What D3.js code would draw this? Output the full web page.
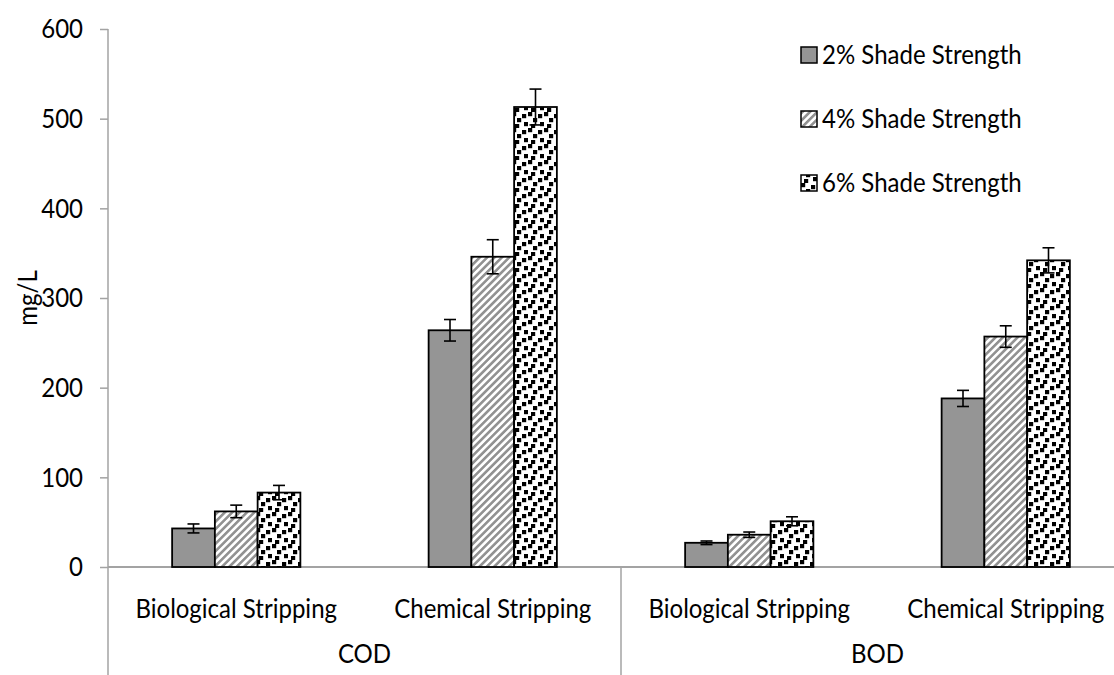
<!DOCTYPE html>
<html>
<head>
<meta charset="utf-8">
<script src="https://cdn.jsdelivr.net/npm/d3@7/dist/d3.min.js"></script>
<style>
  html, body { margin: 0; padding: 0; background: #fff; }
  svg { display: block; }
  text { font-family: Lato, "Open Sans", sans-serif; fill: #000; }
</style>
</head>
<body>
<svg id="chart" width="1114" height="675"></svg>
<script>
// Parameters and the stripping methods measured for each
const groups = ["COD", "BOD"];
const methods = ["Biological Stripping", "Chemical Stripping"];
const seriesNames = ["2% Shade Strength", "4% Shade Strength", "6% Shade Strength"];

// Values in mg/L, ordered COD-Bio, COD-Chem, BOD-Bio, BOD-Chem
const shade2 = [43, 264, 27, 188];
const shade4 = [62, 346, 36, 257];
const shade6 = [83, 513, 51, 342];

// Error bar half-widths (mg/L), same order
const err2 = [5, 12, 2, 9];
const err4 = [7, 19, 3, 12];
const err6 = [8, 20, 5, 14];

const yTicks = [0, 100, 200, 300, 400, 500, 600];
const yLabel = "mg/L";

const values = [shade2, shade4, shade6];
const errors = [err2, err4, err6];

const svg = d3.select("#chart");
const fontSize = 27;
const squeeze = 0.89;   // narrow, tall lettering

// Layout of the plot area
const plot = { left: 108, right: 1134, top: 29, bottom: 567 };
const axisColor = "#a3a3a3";

// Places a condensed text label at (x, y)
function label(parent, x, y, str, anchor, rotate) {
  return parent.append("text")
    .attr("transform", `translate(${x},${y})` + (rotate ? ` rotate(${rotate})` : "") + ` scale(${squeeze},1)`)
    .attr("text-anchor", anchor || "start")
    .attr("dy", "0.35em")
    .attr("font-size", fontSize)
    .text(str);
}

// Combined category keys (group | method)
const cats = [];
groups.forEach(g => methods.forEach(m => cats.push(g + "|" + m)));

const x0 = d3.scaleBand().domain(cats).range([plot.left, plot.right]).padding(0);
const x1 = d3.scaleBand().domain(d3.range(seriesNames.length))
  .range([0, x0.bandwidth()]).paddingInner(0).paddingOuter(1.5);
const y = d3.scaleLinear().domain([0, 600]).range([plot.bottom, plot.top]);

// Fill patterns
const defs = svg.append("defs");
const hatch = defs.append("pattern")
  .attr("id", "hatch").attr("patternUnits", "userSpaceOnUse")
  .attr("width", 5.2).attr("height", 5.2)
  .attr("patternTransform", "rotate(45)");
hatch.append("rect").attr("width", 5.2).attr("height", 5.2).attr("fill", "#fff");
hatch.append("rect").attr("width", 2.6).attr("height", 5.2).attr("fill", "#929292");

const confetti = defs.append("pattern")
  .attr("id", "confetti").attr("patternUnits", "userSpaceOnUse")
  .attr("width", 16).attr("height", 16);
confetti.append("rect").attr("width", 16).attr("height", 16).attr("fill", "#fff");
[[0, 0], [10, 2], [5, 6], [12, 10], [3, 12]].forEach(([px, py]) => {
  confetti.append("rect").attr("x", px).attr("y", py)
    .attr("width", 4.2).attr("height", 4.2).attr("fill", "#000");
});

const fills = ["#959595", "url(#hatch)", "url(#confetti)"];

// Y axis ticks and labels
const yAxis = d3.axisLeft(y).tickValues(yTicks).tickSize(8).tickFormat("").tickSizeOuter(0);
const gy = svg.append("g").attr("transform", `translate(${plot.left},0)`).call(yAxis);
gy.select(".domain").remove();
gy.selectAll(".tick line").attr("stroke", axisColor).attr("stroke-width", 1.5);
yTicks.forEach(t => label(svg, plot.left - 25, y(t), String(t), "end"));
svg.append("line")
  .attr("x1", plot.left).attr("x2", plot.left)
  .attr("y1", y(600)).attr("y2", 675)
  .attr("stroke", axisColor).attr("stroke-width", 1.5);

// Y axis title
label(svg, 28, (plot.top + plot.bottom) / 2, yLabel, "middle", -90);

// X axis baseline and group divider
svg.append("line")
  .attr("x1", plot.left).attr("x2", 1114)
  .attr("y1", y(0)).attr("y2", y(0))
  .attr("stroke", axisColor).attr("stroke-width", 2);
const groupEdge = x0(groups[1] + "|" + methods[0]);
svg.append("line")
  .attr("x1", groupEdge).attr("x2", groupEdge)
  .attr("y1", y(0)).attr("y2", 675)
  .attr("stroke", axisColor).attr("stroke-width", 1.5);

// Bars
const barLayer = svg.append("g");
cats.forEach((c, ci) => {
  seriesNames.forEach((s, si) => {
    const v = values[si][ci];
    barLayer.append("rect")
      .attr("x", x0(c) + x1(si))
      .attr("y", y(v))
      .attr("width", x1.bandwidth())
      .attr("height", y(0) - y(v))
      .attr("fill", fills[si])
      .attr("stroke", "#000")
      .attr("stroke-width", 1.8);
  });
});

// Error bars
const errLayer = svg.append("g").attr("stroke", "#000").attr("stroke-width", 1.6);
cats.forEach((c, ci) => {
  seriesNames.forEach((s, si) => {
    const v = values[si][ci], e = errors[si][ci];
    const cx = x0(c) + x1(si) + x1.bandwidth() / 2;
    errLayer.append("line").attr("x1", cx).attr("x2", cx).attr("y1", y(v + e)).attr("y2", y(v - e));
    errLayer.append("line").attr("x1", cx - 6).attr("x2", cx + 6).attr("y1", y(v + e)).attr("y2", y(v + e));
    errLayer.append("line").attr("x1", cx - 6).attr("x2", cx + 6).attr("y1", y(v - e)).attr("y2", y(v - e));
  });
});

// Category labels
cats.forEach(c => {
  label(svg, x0(c) + x0.bandwidth() / 2, 609, c.split("|")[1], "middle");
});
groups.forEach(g => {
  const a = x0(g + "|" + methods[0]);
  const b = x0(g + "|" + methods[methods.length - 1]) + x0.bandwidth();
  label(svg, (a + b) / 2, 654, g, "middle");
});

// Legend
const legend = svg.append("g").attr("transform", "translate(801,55)");
seriesNames.forEach((s, i) => {
  const row = legend.append("g").attr("transform", `translate(0,${i * 64})`);
  row.append("rect")
    .attr("x", 0).attr("y", -8).attr("width", 16).attr("height", 16)
    .attr("fill", fills[i]).attr("stroke", "#000").attr("stroke-width", 1.5);
  label(row, 21, 0, s, "start");
});
</script>
</body>
</html>
